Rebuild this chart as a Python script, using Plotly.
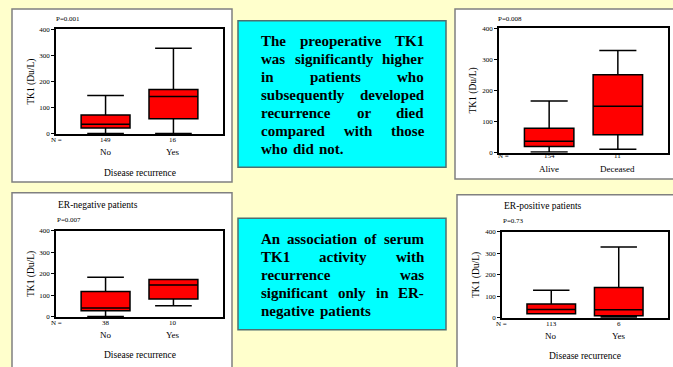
import plotly.graph_objects as go

W, H = 673, 367

# ---------------- data ----------------
rec_cats = ["No", "Yes"]
surv_cats = ["Alive", "Deceased"]
y_ticks = [0, 100, 200, 300, 400]

p1_n = [149, 16]
p1_min = [0, 0]
p1_q1 = [21, 57]
p1_med = [36, 142]
p1_q3 = [71, 169]
p1_max = [146, 328]

p2_n = [154, 11]
p2_min = [0, 9]
p2_q1 = [18, 56]
p2_med = [35, 148]
p2_q3 = [77, 250]
p2_max = [165, 329]

p3_n = [38, 10]
p3_min = [0, 51]
p3_q1 = [27, 82]
p3_med = [40, 147]
p3_q3 = [117, 173]
p3_max = [184, 173]

p4_n = [113, 6]
p4_min = [18, 3]
p4_q1 = [18, 8]
p4_med = [38, 36]
p4_q3 = [63, 140]
p4_max = [128, 329]

p_values = ["P=0.001", "P=0.008", "P=0.007", "P=0.73"]
panel_titles = [None, None, "ER-negative patients", "ER-positive patients"]
x_titles = ["Disease recurrence", None, "Disease recurrence", "Disease recurrence"]
y_title = "TK1 (Du/L)"

text1 = ["The preoperative TK1", "was significantly higher", "in patients who",
         "subsequently developed", "recurrence or died", "compared with those",
         "who did not."]
text2 = ["An association of serum", "TK1 activity with", "recurrence was",
         "significant only in ER-", "negative patients"]

# ---------------- layout helpers ----------------
def px(x):
    return x / W

def py(y):
    return 1 - y / H

SERIF = "Liberation Serif"

panels = [
    dict(cats=rec_cats, n=p1_n, lo=p1_min, q1=p1_q1, med=p1_med, q3=p1_q3, hi=p1_max,
         plot=(56, 223, 26, 133), card=(12, 232, 5, 182),
         n_y=139, cat_y=151, nlab_x=56, p_xy=(55, 15), xt_y=173, yt_x=32, title_y=None),
    dict(cats=surv_cats, n=p2_n, lo=p2_min, q1=p2_q1, med=p2_med, q3=p2_q3, hi=p2_max,
         plot=(499, 668, 25, 152), card=(455, 680, 5, 179),
         n_y=155, cat_y=169, nlab_x=503, p_xy=(497, 15), xt_y=None, yt_x=474, title_y=None),
    dict(cats=rec_cats, n=p3_n, lo=p3_min, q1=p3_q1, med=p3_med, q3=p3_q3, hi=p3_max,
         plot=(56, 223, 232, 320), card=(12, 232, 193, 375),
         n_y=326, cat_y=338, nlab_x=56, p_xy=(56, 221), xt_y=359, yt_x=32, title_y=205),
    dict(cats=rec_cats, n=p4_n, lo=p4_min, q1=p4_q1, med=p4_med, q3=p4_q3, hi=p4_max,
         plot=(502, 668, 233, 321), card=(457, 680, 195, 375),
         n_y=327, cat_y=339, nlab_x=501, p_xy=(502, 222), xt_y=360, yt_x=477, title_y=206),
]

fig = go.Figure()
shapes = []
annotations = []
layout_axes = {}

for i, p in enumerate(panels):
    k = "" if i == 0 else str(i + 1)
    xa, ya = "x" + k, "y" + k
    x0, x1, y0, y1 = p["plot"]
    fig.add_trace(go.Box(
        x=p["cats"], q1=p["q1"], median=p["med"], q3=p["q3"],
        lowerfence=p["lo"], upperfence=p["hi"],
        xaxis=xa, yaxis=ya, width=0.72, whiskerwidth=0.75,
        fillcolor="#ff0000", line=dict(color="black", width=1.5),
        showlegend=False, hoverinfo="skip", boxpoints=False,
    ))
    layout_axes["xaxis" + k] = dict(
        domain=[px(x0), px(x1)], anchor=ya, range=[-0.73, 1.73],
        showline=True, linecolor="black", linewidth=1.5, mirror=True,
        showticklabels=False, ticks="", showgrid=False, zeroline=False,
        type="category", categoryorder="array", categoryarray=p["cats"],
    )
    layout_axes["yaxis" + k] = dict(
        domain=[py(y1), py(y0)], anchor=xa, range=[-2, 400],
        tickvals=y_ticks, ticks="outside", ticklen=3, tickcolor="black", tickwidth=1,
        tickfont=dict(family=SERIF, size=7, color="black"),
        showline=True, linecolor="black", linewidth=1.5, mirror=True,
        showgrid=False, zeroline=False,
    )
    # white card
    cx0, cx1, cy0, cy1 = p["card"]
    shapes.append(dict(type="rect", xref="paper", yref="paper",
                       x0=px(cx0), x1=px(cx1), y0=py(cy1), y1=py(cy0),
                       fillcolor="white", line=dict(color="#808080", width=1.5),
                       layer="below"))
    # counts and category names
    for j, c in enumerate(p["cats"]):
        annotations.append(dict(x=j, y=py(p["n_y"]), xref=xa, yref="paper",
                                text=str(p["n"][j]), showarrow=False,
                                font=dict(family=SERIF, size=7, color="black"),
                                xanchor="center", yanchor="middle"))
        annotations.append(dict(x=j, y=py(p["cat_y"]), xref=xa, yref="paper",
                                text=c, showarrow=False,
                                font=dict(family=SERIF, size=9, color="black"),
                                xanchor="center", yanchor="middle"))
    annotations.append(dict(x=px(p["nlab_x"]), y=py(p["n_y"]), xref="paper", yref="paper",
                            text="N =", showarrow=False,
                            font=dict(family=SERIF, size=7, color="black"),
                            xanchor="center", yanchor="middle"))
    annotations.append(dict(x=px(p["p_xy"][0]), y=py(p["p_xy"][1]), xref="paper", yref="paper",
                            text=p_values[i], showarrow=False, borderpad=0,
                            font=dict(family=SERIF, size=7, color="black"),
                            xanchor="left", yanchor="middle"))
    if x_titles[i]:
        annotations.append(dict(x=px((x0 + x1) / 2), y=py(p["xt_y"]), xref="paper", yref="paper",
                                text=x_titles[i], showarrow=False,
                                font=dict(family=SERIF, size=9.5, color="black"),
                                xanchor="center", yanchor="middle"))
    if panel_titles[i]:
        annotations.append(dict(x=px(x0 + 1), y=py(p["title_y"]), xref="paper", yref="paper",
                                text=panel_titles[i], showarrow=False, borderpad=0,
                                font=dict(family=SERIF, size=9.5, color="black"),
                                xanchor="left", yanchor="middle"))
    annotations.append(dict(x=px(p["yt_x"]), y=py((y0 + y1) / 2), xref="paper", yref="paper",
                            text=y_title, showarrow=False, textangle=-90,
                            font=dict(family=SERIF, size=9.5, color="black"),
                            xanchor="center", yanchor="middle"))

# ---------------- cyan text boxes ----------------
BOLD_W = {" ": 250, ".": 250, "-": 333, "1": 500, "A": 722, "E": 667, "R": 722,
          "T": 667, "K": 778, "a": 500, "b": 556, "c": 444, "d": 556, "e": 444,
          "f": 333, "g": 500, "h": 556, "i": 278, "j": 333, "k": 556, "l": 278,
          "m": 833, "n": 556, "o": 500, "p": 556, "q": 556, "r": 444, "s": 389,
          "t": 333, "u": 556, "v": 500, "w": 722, "x": 500, "y": 500, "z": 444}

def word_w(wd, fs):
    return sum(BOLD_W.get(ch, 500) for ch in wd) * fs / 1000.0

def justify(lines, top_y, fs=15, L=260, R=423, lh=18.4):
    for li, line in enumerate(lines):
        words = line.split()
        ws = [word_w(w, fs) for w in words]
        last = li == len(lines) - 1
        if last or len(words) == 1:
            gap = BOLD_W[" "] * fs / 1000.0 * 1.4
        else:
            gap = (R - L - sum(ws)) / (len(words) - 1)
        x = L
        for w, wd in zip(words, ws):
            annotations.append(dict(x=px(x), y=py(top_y + li * lh), xref="paper", yref="paper",
                                    text="<b>%s</b>" % w, showarrow=False, borderpad=0,
                                    font=dict(family=SERIF, size=fs, color="black"),
                                    xanchor="left", yanchor="middle"))
            x += wd + gap

for (bx0, bx1, by0, by1) in [(238, 446, 17, 167), (238, 446, 219, 333)]:
    shapes.append(dict(type="rect", xref="paper", yref="paper",
                       x0=px(bx0), x1=px(bx1), y0=py(by1), y1=py(by0),
                       fillcolor="#00ffff", line=dict(color="#4f6f6f", width=1.5),
                       layer="below"))

justify(text1, 37.5)
justify(text2, 240.5, lh=18.3)

fig.update_layout(
    width=W, height=H, margin=dict(l=0, r=0, t=0, b=0),
    paper_bgcolor="#ffffcc", plot_bgcolor="white",
    shapes=shapes, annotations=annotations, showlegend=False,
    **layout_axes,
)

fig.write_html("out.html", config={"displayModeBar": False},
               post_script="document.body.style.margin='0';document.body.style.overflow='hidden';")
